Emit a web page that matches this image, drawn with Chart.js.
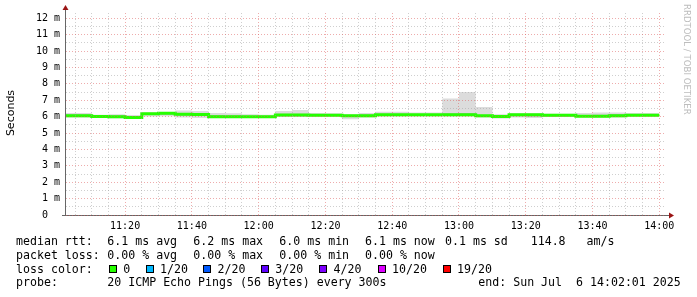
<!DOCTYPE html>
<html>
    <head>
        <title>SmokePing latency</title>
        <script src="https://cdn.jsdelivr.net/npm/chart.js@4.4.1/dist/chart.umd.min.js"></script>
        <style>
            body { margin: 0; background: #fff; width: 697px; height: 297px; position: relative; overflow: hidden; }
            #chart { position: absolute; left: 0; top: 0; }
            .t { position: absolute; font-family: 'DejaVu Sans Mono', monospace; font-size: 11.6px; line-height: 14px; white-space: pre; color: #000; }
            .box { position: absolute; width: 8px; height: 8px; box-sizing: border-box; border: 1px solid #000; }
            #ylab { position: absolute; left: -39px; top: 106px; width: 100px; text-align: center;
                    font-family: 'DejaVu Sans', sans-serif; font-size: 11px; line-height: 14px; transform: rotate(-90deg); }
            #wm { position: absolute; left: 682px; top: 4px; writing-mode: vertical-rl; font-family: 'DejaVu Sans', sans-serif;
                  font-size: 8.6px; line-height: 10px; color: #bdbdbd; white-space: pre; }
        </style>
    </head>
    <body>
        <canvas id="chart" width="697" height="237"></canvas>
        <div id="ylab">Seconds</div>
        <div id="wm">RRDTOOL / TOBI OETIKER</div>

        <div class="t" style="left:16px;top:234px">median rtt:</div>
        <div class="t" style="left:107.3px;top:234px">6.1 ms avg</div>
        <div class="t" style="left:193.3px;top:234px">6.2 ms max</div>
        <div class="t" style="left:279.3px;top:234px">6.0 ms min</div>
        <div class="t" style="left:365px;top:234px">6.1 ms now</div>
        <div class="t" style="left:445px;top:234px">0.1 ms sd</div>
        <div class="t" style="left:530.7px;top:234px">114.8   am/s</div>

        <div class="t" style="left:16px;top:248px">packet loss:</div>
        <div class="t" style="left:107.3px;top:248px">0.00 % avg</div>
        <div class="t" style="left:193.3px;top:248px">0.00 % max</div>
        <div class="t" style="left:279.3px;top:248px">0.00 % min</div>
        <div class="t" style="left:365px;top:248px">0.00 % now</div>

        <div class="t" style="left:16px;top:261.7px">loss color:</div>
        <div id="losskey"></div>

        <div class="t" style="left:16px;top:275.3px">probe:</div>
        <div class="t" style="left:107.3px;top:275.3px">20 ICMP Echo Pings (56 Bytes) every 300s</div>
        <div class="t" style="left:478.3px;top:275.3px">end: Sun Jul  6 14:02:01 2025</div>

        <script>
            // 5 minute steps, each value holds until the next time
            const stepTimes = ['11:02','11:10','11:15','11:20','11:25','11:30','11:35','11:40','11:45','11:50','11:55',
                               '12:00','12:05','12:10','12:15','12:20','12:25','12:30','12:35','12:40','12:45','12:50','12:55',
                               '13:00','13:05','13:10','13:15','13:20','13:25','13:30','13:35','13:40','13:45','13:50','13:55',
                               '14:00'];
            // median rtt in ms
            const median   = [6.13, 6.06, 6.01, 5.99, 5.95, 6.18, 6.21, 6.15, 6.13, 5.99, 5.99, 5.99, 5.99, 6.10, 6.10, 6.08, 6.08,
                              6.05, 6.05, 6.11, 6.11, 6.11, 6.11, 6.11, 6.11, 6.05, 6.00, 6.11, 6.11, 6.08, 6.08, 6.02, 6.03, 6.06, 6.08];
            // smoke: full spread of the pings
            const smokeMax = [6.40, 6.22, 6.12, 6.15, 6.10, 6.25, 6.28, 6.38, 6.35, 6.22, 6.20, 6.15, 6.12, 6.35, 6.40, 6.22, 6.20,
                              6.15, 6.22, 6.30, 6.30, 6.25, 6.25, 7.10, 7.50, 6.58, 6.15, 6.22, 6.22, 6.18, 6.18, 6.22, 6.25, 6.25, 6.22];
            const smokeMin = [5.95, 5.95, 5.93, 5.90, 5.86, 6.00, 6.02, 5.95, 5.92, 5.96, 5.96, 5.94, 5.94, 5.98, 5.98, 6.00, 6.00,
                              5.84, 5.95, 6.00, 6.00, 6.00, 6.00, 6.00, 6.00, 5.95, 5.88, 5.94, 5.92, 5.98, 5.98, 5.96, 5.94, 5.95, 6.00];
            // denser smoke around the median
            const smokeHi  = [6.22, 6.15, 6.08, 6.08, 6.02, 6.22, 6.25, 6.22, 6.20, 6.10, 6.08, 6.06, 6.06, 6.18, 6.18, 6.14, 6.14,
                              6.10, 6.14, 6.18, 6.18, 6.16, 6.16, 6.20, 6.22, 6.12, 6.06, 6.16, 6.16, 6.12, 6.12, 6.10, 6.12, 6.16, 6.14];
            const smokeLo  = [6.05, 6.00, 5.97, 5.95, 5.92, 6.10, 6.12, 6.05, 6.05, 5.98, 5.98, 5.96, 5.96, 6.02, 6.02, 6.04, 6.04,
                              5.98, 6.00, 6.06, 6.06, 6.06, 6.06, 6.06, 6.06, 6.00, 5.94, 6.02, 6.00, 6.02, 6.02, 5.98, 5.98, 6.00, 6.04];

            const lossLabels = ['0', '1/20', '2/20', '3/20', '4/20', '10/20', '19/20'];
            const lossColors = ['#26ff00', '#00b8ff', '#0059ff', '#5e00ff', '#7e00ff', '#dd00ff', '#ff0000'];
            const lossBoxX   = [109, 145.7, 203.3, 261, 319.3, 377.7, 442.7];

            let key = '';
            for (let i = 0; i < lossLabels.length; i++) {
                key += `<div class="box" style="left:${lossBoxX[i]}px;top:264.7px;background:${lossColors[i]}"></div>`;
                key += `<div class="t" style="left:${lossBoxX[i] + 14.3}px;top:261.7px">${lossLabels[i]}</div>`;
            }
            document.getElementById('losskey').innerHTML = key;

            const toMin = s => { let p = s.split(':'); return +p[0] * 60 + +p[1]; };
            const fmt = v => Math.floor(v / 60) + ':' + String(v % 60).padStart(2, '0');
            const pts = arr => stepTimes.map((t, i) => ({x: toMin(t), y: arr[Math.min(i, arr.length - 1)]}));

            const majorRed = 'rgba(222, 90, 90, 0.5)';
            const minorGray = 'rgba(160, 160, 160, 0.5)';
            const none = 'rgba(0,0,0,0)';

            const arrows = {
                id: 'arrows',
                afterDraw(chart) {
                    const {ctx, chartArea: a} = chart;
                    const x0 = Math.round(a.left) + 0.5, y0 = Math.round(a.bottom) + 0.5;
                    ctx.save();
                    ctx.strokeStyle = '#666';
                    ctx.lineWidth = 1;
                    ctx.beginPath();
                    ctx.moveTo(x0, a.top); ctx.lineTo(x0, a.top - 4);
                    ctx.moveTo(a.right, y0); ctx.lineTo(a.right + 3, y0);
                    ctx.stroke();
                    ctx.fillStyle = '#9a1414';
                    ctx.beginPath();
                    ctx.moveTo(x0, a.top - 8); ctx.lineTo(x0 - 3, a.top - 3); ctx.lineTo(x0 + 3, a.top - 3);
                    ctx.fill();
                    ctx.beginPath();
                    ctx.moveTo(a.right + 8, y0); ctx.lineTo(a.right + 3, y0 - 3); ctx.lineTo(a.right + 3, y0 + 3);
                    ctx.fill();
                    ctx.restore();
                }
            };

            const band = {borderColor: none, borderWidth: 0, pointRadius: 0, stepped: 'after'};

            new Chart(document.getElementById('chart'), {
                type: 'line',
                data: {
                    datasets: [
                        Object.assign({data: pts(smokeMax), fill: '+1', backgroundColor: '#dcdcdc', order: 4}, band),
                        Object.assign({data: pts(smokeMin), fill: false, order: 3}, band),
                        Object.assign({data: pts(smokeHi), fill: '+1', backgroundColor: '#b2b2b2', order: 2}, band),
                        Object.assign({data: pts(smokeLo), fill: false, order: 1}, band),
                        {data: pts(median), borderColor: '#26ff00', borderWidth: 3, pointRadius: 0, stepped: 'after', fill: false, order: 0}
                    ]
                },
                options: {
                    responsive: false,
                    animation: false,
                    layout: {padding: {left: 0, right: 31, top: 13, bottom: 0}},
                    plugins: {legend: {display: false}, tooltip: {enabled: false}},
                    scales: {
                        x: {
                            type: 'linear',
                            min: toMin('11:02'),
                            max: toMin('14:02'),
                            afterBuildTicks: s => {
                                let t = [];
                                for (let v = toMin('11:05'); v <= toMin('14:00'); v += 5) t.push({value: v});
                                s.ticks = t;
                            },
                            ticks: {
                                autoSkip: false, maxRotation: 0, padding: 2,
                                font: {family: 'DejaVu Sans Mono', size: 10}, color: '#000',
                                callback: v => v % 20 === 0 ? fmt(v) : ''
                            },
                            grid: {
                                z: 1,
                                color: c => c.tick && c.tick.value % 20 === 0 ? majorRed : minorGray,
                                tickLength: 3, tickColor: none
                            },
                            border: {color: '#666', dash: [1, 2], z: 1},
                            afterFit: s => { s.height = 22; }
                        },
                        y: {
                            min: 0,
                            max: 12.32,
                            ticks: {
                                stepSize: 0.5, autoSkip: false, includeBounds: false, padding: 2,
                                font: {family: 'DejaVu Sans Mono', size: 10}, color: '#000',
                                callback: v => Number.isInteger(v) ? (v === 0 ? '0  ' : v + ' m') : ''
                            },
                            grid: {
                                z: 1,
                                color: c => c.tick && Number.isInteger(c.tick.value) ? majorRed : minorGray,
                                tickLength: 3,
                                tickColor: c => c.tick && c.tick.value === 0 ? '#666' : none
                            },
                            border: {color: '#666', dash: [1, 2], z: 1},
                            afterFit: s => { s.width = 65; }
                        }
                    }
                },
                plugins: [arrows]
            });
        </script>
    </body>
</html>
